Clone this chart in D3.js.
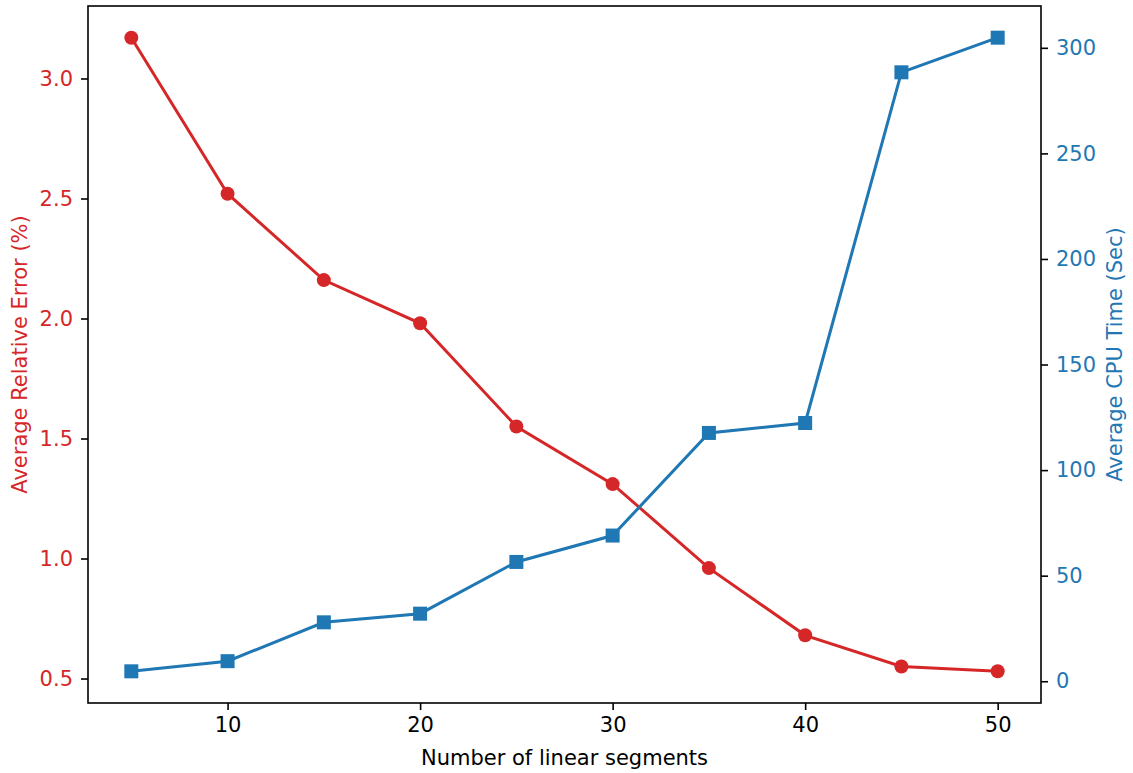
<!DOCTYPE html>
<html>
<head>
<meta charset="utf-8">
<script src="https://cdn.jsdelivr.net/npm/d3@7"></script>
<style>
  body { margin: 0; background: #fff; }
  svg { display: block; }
  text { font-family: "DejaVu Sans", sans-serif; }
</style>
</head>
<body>
<svg id="chart" width="1133" height="773"></svg>
<script>
// data
var segments = [5, 10, 15, 20, 25, 30, 35, 40, 45, 50];
var relError = [3.17, 2.52, 2.16, 1.98, 1.55, 1.31, 0.96, 0.68, 0.55, 0.53];
var cpuTime = [4.7, 9.5, 27.9, 32.0, 56.5, 69.0, 117.6, 122.3, 288.4, 304.8];
var xTicks = [10, 20, 30, 40, 50];
var leftTicks = [0.5, 1.0, 1.5, 2.0, 2.5, 3.0];
var rightTicks = [0, 50, 100, 150, 200, 250, 300];

var red = "#d62728", blue = "#1f77b4";
var fontSize = "21px";

var svg = d3.select("#chart"),
  margin = {top: 6, right: 92, bottom: 70, left: 88},
  width = +svg.attr("width") - margin.left - margin.right,
  height = +svg.attr("height") - margin.top - margin.bottom;

// matplotlib-like 5% padding
function padded(vals) {
  var lo = d3.min(vals), hi = d3.max(vals), p = (hi - lo) * 0.05;
  return [lo - p, hi + p];
}

var x = d3.scaleLinear().domain(padded(segments)).range([0, width]);
var yL = d3.scaleLinear().domain(padded(relError)).range([height, 0]);
var yR = d3.scaleLinear().domain(padded(cpuTime)).range([height, 0]);

var g = svg.append("g")
  .attr("transform", "translate(" + margin.left + "," + margin.top + ")");

function styleAxis(sel, color) {
  sel.selectAll("path").remove();
  sel.selectAll("line").attr("stroke", "#000").attr("stroke-width", 1.6);
  sel.selectAll("text").attr("fill", color).style("font-size", fontSize)
    .style("font-family", "DejaVu Sans, sans-serif");
}

var xAxis = g.append("g")
  .attr("transform", "translate(0," + height + ")")
  .call(d3.axisBottom(x).tickValues(xTicks).tickSize(7).tickPadding(7).tickFormat(d3.format("d")));
styleAxis(xAxis, "#000");

var lAxis = g.append("g")
  .call(d3.axisLeft(yL).tickValues(leftTicks).tickSize(7).tickPadding(8).tickFormat(d3.format(".1f")));
styleAxis(lAxis, red);

var rAxis = g.append("g")
  .attr("transform", "translate(" + width + ",0)")
  .call(d3.axisRight(yR).tickValues(rightTicks).tickSize(7).tickPadding(8).tickFormat(d3.format("d")));
styleAxis(rAxis, blue);

// frame
g.append("rect")
  .attr("width", width).attr("height", height)
  .attr("fill", "none").attr("stroke", "#000").attr("stroke-width", 1.6);

// red series
g.append("path")
  .datum(segments)
  .attr("fill", "none").attr("stroke", red).attr("stroke-width", 3)
  .attr("d", d3.line().x(function(d) { return x(d); }).y(function(d, i) { return yL(relError[i]); }));

g.selectAll(".dot")
  .data(segments)
  .enter().append("circle")
  .attr("class", "dot")
  .attr("cx", function(d) { return x(d); })
  .attr("cy", function(d, i) { return yL(relError[i]); })
  .attr("r", 7)
  .attr("fill", red);

// blue series
g.append("path")
  .datum(segments)
  .attr("fill", "none").attr("stroke", blue).attr("stroke-width", 3)
  .attr("d", d3.line().x(function(d) { return x(d); }).y(function(d, i) { return yR(cpuTime[i]); }));

var sq = 14;
g.selectAll(".sq")
  .data(segments)
  .enter().append("rect")
  .attr("class", "sq")
  .attr("x", function(d) { return x(d) - sq / 2; })
  .attr("y", function(d, i) { return yR(cpuTime[i]) - sq / 2; })
  .attr("width", sq).attr("height", sq)
  .attr("fill", blue);

// axis labels
svg.append("text")
  .attr("x", margin.left + width / 2).attr("y", 765)
  .attr("text-anchor", "middle")
  .style("font-size", fontSize)
  .text("Number of linear segments");

svg.append("text")
  .attr("transform", "translate(27," + (margin.top + height / 2) + ") rotate(-90)")
  .attr("text-anchor", "middle")
  .attr("fill", red)
  .style("font-size", fontSize)
  .text("Average Relative Error (%)");

svg.append("text")
  .attr("transform", "translate(1122," + (margin.top + height / 2) + ") rotate(-90)")
  .attr("text-anchor", "middle")
  .attr("fill", blue)
  .style("font-size", fontSize)
  .text("Average CPU Time (Sec)");
</script>
</body>
</html>
